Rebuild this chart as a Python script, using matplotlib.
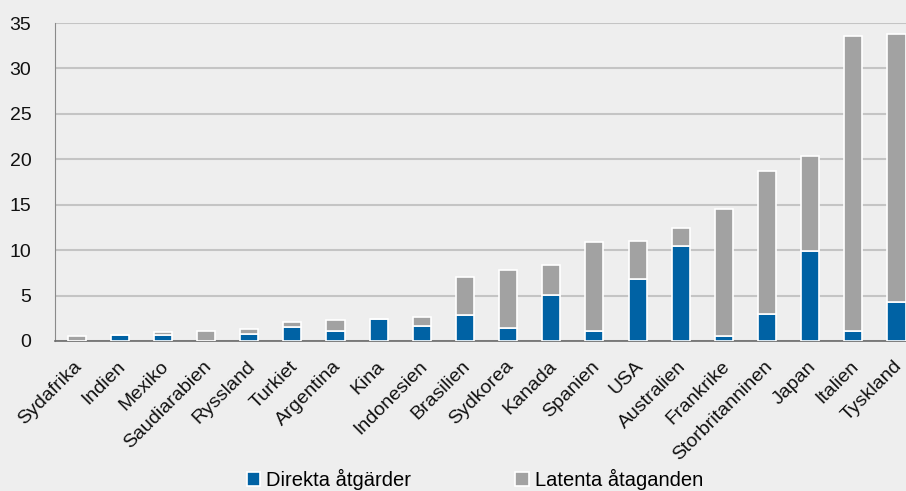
import numpy as np
import matplotlib.pyplot as plt
import matplotlib.transforms as mtransforms

plt.rcParams['font.family'] = ['Liberation Sans', 'DejaVu Sans']

countries = ["Sydafrika", "Indien", "Mexiko", "Saudiarabien", "Ryssland", "Turkiet",
             "Argentina", "Kina", "Indonesien", "Brasilien", "Sydkorea", "Kanada",
             "Spanien", "USA", "Australien", "Frankrike", "Storbritanninen", "Japan",
             "Italien", "Tyskland"]
direkta = [0.0, 0.7, 0.63, 0.0, 0.73, 1.5, 1.06, 2.4, 1.65, 2.85, 1.4, 5.06,
           1.1, 6.8, 10.5, 0.58, 2.97, 9.9, 1.1, 4.26]
totalt = [0.55, 0.7, 1.0, 1.13, 1.35, 2.05, 2.3, 2.4, 2.6, 7.0, 7.8, 8.36,
          10.86, 11.0, 12.4, 14.52, 18.67, 20.38, 33.55, 33.85]
latenta = [t - d for t, d in zip(totalt, direkta)]

blue = "#0062a4"
grey = "#a2a2a2"
bg = "#eeeeee"

fig = plt.figure(figsize=(9.06, 4.91), dpi=100, facecolor=bg)
ax = fig.add_axes([0.0607, 0.3055, 0.9393, 0.6475])
ax.set_facecolor(bg)

x = np.arange(len(countries))
w = 0.42
ax.bar(x, direkta, w, color=blue, edgecolor="white", linewidth=1.2,
       label="Direkta åtgärder", zorder=3)
ax.bar(x, latenta, w, bottom=direkta, color=grey, edgecolor="white", linewidth=1.2,
       label="Latenta åtaganden", zorder=3)

ax.set_ylim(0, 35)
ax.set_xlim(-0.5, 19.22)
ax.set_yticks(range(0, 36, 5))
ax.yaxis.grid(True, color="#c4c4c4", linewidth=1.5, zorder=0)
ax.set_axisbelow(True)
ax.tick_params(axis="both", length=0, colors="#111111")
ax.tick_params(axis="x", labelsize=14, pad=12)
ax.tick_params(axis="y", labelsize=14, pad=17)
ax.set_xticks(x)
ax.set_xticklabels(countries, rotation=45, ha="right", rotation_mode="anchor")
shift = mtransforms.ScaledTranslation(-3 / 100, 0, fig.dpi_scale_trans)
for lab in ax.get_xticklabels():
    lab.set_transform(lab.get_transform() + shift)
for sp in ["top", "right"]:
    ax.spines[sp].set_visible(False)
ax.spines["left"].set_color("#8a8a8a")
ax.spines["bottom"].set_color("#6a6a6a")
ax.spines["bottom"].set_linewidth(1.2)

leg = fig.legend(loc="lower center", bbox_to_anchor=(0.524, -0.035), ncol=2,
                 frameon=False, fontsize=14.5, handlelength=0.65, handleheight=0.65,
                 handletextpad=0.3, columnspacing=5.2)

fig.savefig("out.png", dpi=100, facecolor=bg)
